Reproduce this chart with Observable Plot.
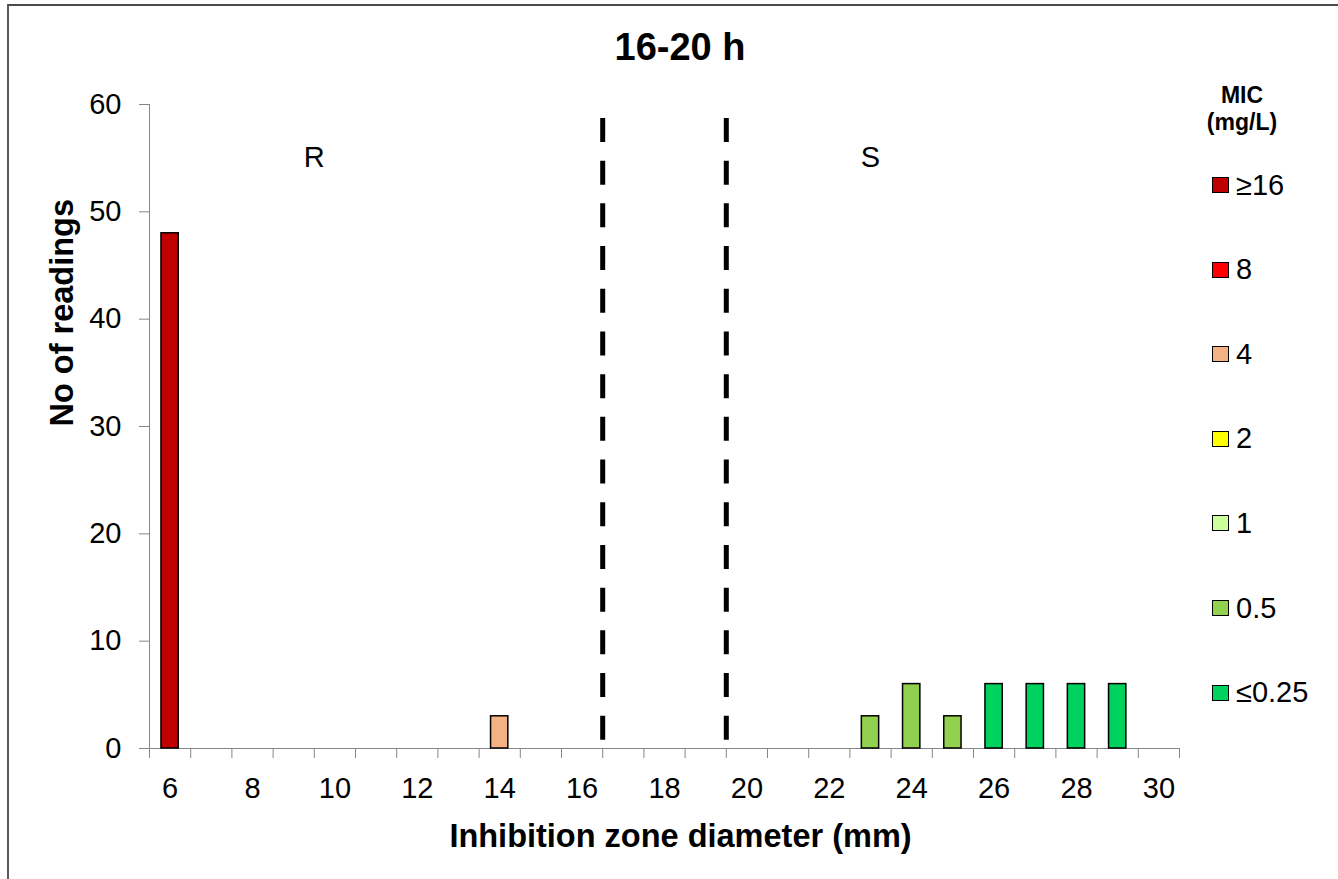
<!DOCTYPE html>
<html>
<head>
<meta charset="utf-8">
<script src="https://cdn.jsdelivr.net/npm/d3@7"></script>
<script src="https://cdn.jsdelivr.net/npm/@observablehq/plot@0.6"></script>
<style>
  html, body { margin: 0; padding: 0; background: #fff; }
  #wrap { position: relative; width: 1338px; height: 879px; overflow: hidden; font-family: Arial, "Liberation Sans", sans-serif; }
  #frame { position: absolute; left: 7px; top: 4px; width: 1340px; height: 890px; border-top: 2px solid #4a4a4a; border-left: 2px solid #5a5a5a; box-sizing: border-box; pointer-events: none; }
  .lg-head { position: absolute; width: 120px; left: 1182px; text-align: center; font-weight: bold; font-size: 23px; line-height: 23px; color: #000; white-space: nowrap; }
  .lg-item { position: absolute; left: 1212px; height: 29px; display: flex; align-items: center; font-size: 29px; line-height: 29px; color: #000; white-space: nowrap; }
  .lg-sw { width: 17px; height: 16px; box-sizing: border-box; border: 1.5px solid #000; margin-right: 7px; }
</style>
</head>
<body>
<div id="wrap"></div>
<script>
// ---- data ----
const zones = [6, 14, 23, 24, 25, 26, 27, 28, 29];
const counts = [48, 3, 3, 6, 3, 6, 6, 6, 6];
const micOfBar = ["≥16", "4", "0.5", "0.5", "0.5", "≤0.25", "≤0.25", "≤0.25", "≤0.25"];
const micLabels = ["≥16", "8", "4", "2", "1", "0.5", "≤0.25"];
const micColors = ["#C00000", "#FF0000", "#F4B183", "#FFFF00", "#CCFF99", "#92D050", "#00D260"];
const xCategories = d3.range(6, 31);             // 6 ... 30
const xTickLabels = [6, 8, 10, 12, 14, 16, 18, 20, 22, 24, 26, 28, 30];
const yTicks = [0, 10, 20, 30, 40, 50, 60];
const breakpoints = [16.5, 19.5];
const breakpointTop = 58.7;
const zoneLetters = ["R", "S"];
const zoneLetterX = [9.5, 23];
const zoneLetterY = 55;
const titleText = "16-20 h";
const xTitle = "Inhibition zone diameter (mm)";
const yTitle = "No of readings";
const legendTitle = ["MIC", "(mg/L)"];

// ---- tables built from arrays ----
const bars = zones.map((z, i) => ({zone: z, count: counts[i], mic: micOfBar[i]}));
const boundaries = [...xCategories.map(c => c - 0.5), xCategories[xCategories.length - 1] + 0.5];
const letters = zoneLetters.map((t, i) => ({t, x: zoneLetterX[i], y: zoneLetterY}));

const axisGray = "#868686";
const font = 'Arial, "Liberation Sans", sans-serif';

const chart = Plot.plot({
  width: 1338,
  height: 879,
  marginLeft: 149,
  marginRight: 159,
  marginTop: 104,
  marginBottom: 131,
  x: {type: "linear", domain: [boundaries[0], boundaries[boundaries.length - 1]]},
  y: {domain: [0, 60]},
  color: {domain: micLabels, range: micColors},
  style: {fontFamily: font, fontSize: "29px", color: "#000", background: "transparent", overflow: "visible"},
  marks: [
    // axis lines
    Plot.ruleY([0], {stroke: axisGray, strokeWidth: 1}),
    Plot.ruleX([boundaries[0]], {stroke: axisGray, strokeWidth: 1}),
    // y axis ticks + labels
    Plot.axisY({ticks: yTicks, tickSize: 10, tickPadding: 18, stroke: axisGray, fontSize: 29, label: null, tickFormat: d => String(d)}),
    // x axis tick marks at category boundaries
    Plot.axisX({ticks: boundaries, tickSize: 10, stroke: axisGray, fill: "none", label: null}),
    // x axis labels at every other category
    Plot.axisX({ticks: xTickLabels, tickSize: 0, tickPadding: 29, fontSize: 29, label: null, tickFormat: d => String(d)}),
    // bars
    Plot.rectY(bars, {
      x1: d => d.zone - 0.21,
      x2: d => d.zone + 0.21,
      y1: () => 0,
      y2: "count",
      fill: "mic",
      stroke: "#000",
      strokeWidth: 1.5
    }),
    // breakpoint dashed lines
    Plot.ruleX(breakpoints, {x: d => d, y1: () => breakpointTop, y2: () => 0, stroke: "#000", strokeWidth: 5, strokeDasharray: "24,18.7"}),
    // R / S
    Plot.text(letters, {x: "x", y: "y", text: "t", fontSize: 29, lineAnchor: "middle"}),
    // title
    Plot.text([titleText], {frameAnchor: "top", text: d => d, dx: 15.5, dy: -71, lineAnchor: "top", fontSize: 38, fontWeight: "bold"}),
    // x title
    Plot.text([xTitle], {frameAnchor: "bottom", text: d => d, dx: 16, dy: 75, lineAnchor: "top", fontSize: 32.5, fontWeight: "bold"}),
    // y title
    Plot.text([yTitle], {frameAnchor: "left", text: d => d, dx: -87, dy: 0, rotate: -90, lineAnchor: "middle", fontSize: 32.5, fontWeight: "bold"})
  ]
});

const wrap = document.getElementById("wrap");
wrap.appendChild(chart);

const frame = document.createElement("div");
frame.id = "frame";
wrap.appendChild(frame);

// legend (HTML)
legendTitle.forEach((t, i) => {
  const d = document.createElement("div");
  d.className = "lg-head";
  d.style.top = (i === 0 ? 83.5 : 110.5) + "px";
  d.textContent = t;
  wrap.appendChild(d);
});
micLabels.forEach((lab, i) => {
  const cy = 185 + i * 84.6;
  const item = document.createElement("div");
  item.className = "lg-item";
  item.style.top = (cy - 14.5) + "px";
  const sw = document.createElement("div");
  sw.className = "lg-sw";
  sw.style.background = micColors[i];
  const tx = document.createElement("span");
  tx.textContent = lab;
  item.appendChild(sw);
  item.appendChild(tx);
  wrap.appendChild(item);
});
</script>
</body>
</html>
